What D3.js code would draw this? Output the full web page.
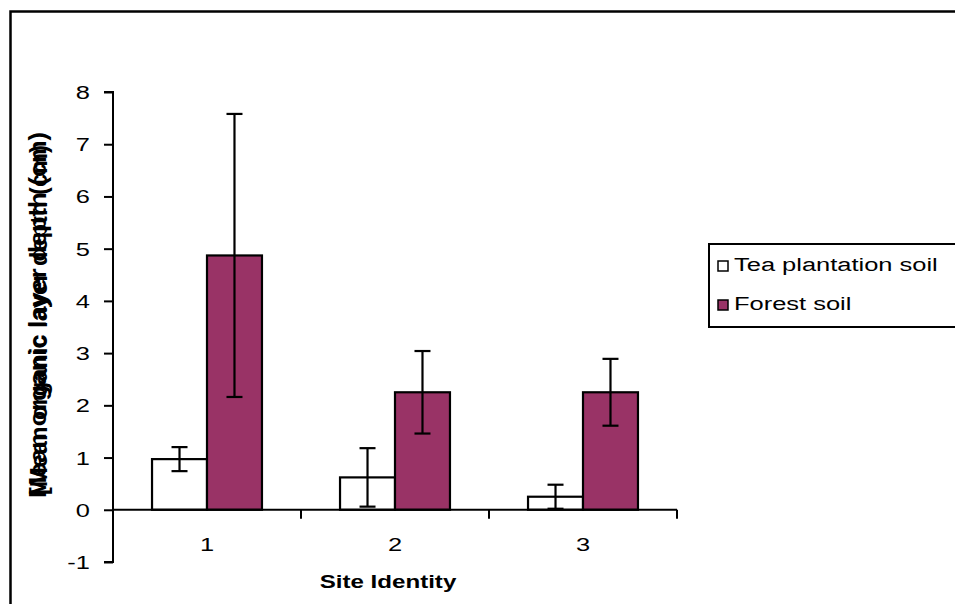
<!DOCTYPE html>
<html><head><meta charset="utf-8">
<script src="https://cdn.jsdelivr.net/npm/d3@7"></script>
<style>body{margin:0;background:#fff}svg{display:block}text{font-family:"Liberation Sans",Arial,sans-serif;fill:#000}</style>
</head><body>
<svg id="c" width="955" height="604"></svg>
<script>
const categories = ["1","2","3"];
const seriesNames = ["Tea plantation soil","Forest soil"];
const teaValues = [0.97, 0.62, 0.25];
const teaErrors = [0.23, 0.56, 0.23];
const forestValues = [4.87, 2.25, 2.25];
const forestErrors = [2.71, 0.79, 0.64];
const yTicks = [-1,0,1,2,3,4,5,6,7,8];
const colors = ["#ffffff","#993366"];
const SX = 1.34; // horizontal stretch of the glyphs in the original

const svg = d3.select("#c");
function stext(g, x, y, str, size, anchor, bold){
  return g.append("text").attr("transform",`translate(${x},${y}) scale(${SX},1)`)
    .attr("text-anchor",anchor).attr("font-size",size).attr("font-weight",bold?"bold":"normal").text(str);
}

// outer frame
svg.append("rect").attr("x",10.5).attr("y",11.5).attr("width",1000).attr("height",1000)
  .attr("fill","none").attr("stroke","#000").attr("stroke-width",2.5);

const x0 = d3.scaleBand().domain(categories).range([113,677]).paddingInner(0).paddingOuter(0);
const x1 = d3.scaleBand().domain(seriesNames).range([0,x0.bandwidth()]).paddingOuter(0.71).paddingInner(0);
const y = d3.scaleLinear().domain([-1,8]).range([562,92]);

const series = [
  {name:seriesNames[0], values:teaValues, errs:teaErrors, color:colors[0]},
  {name:seriesNames[1], values:forestValues, errs:forestErrors, color:colors[1]}
];

// bars
series.forEach(s=>{
  svg.append("g").selectAll("rect").data(categories).join("rect")
    .attr("x",c=>x0(c)+x1(s.name))
    .attr("y",(c,i)=>y(s.values[i]))
    .attr("width",x1.bandwidth())
    .attr("height",(c,i)=>y(0)-y(s.values[i]))
    .attr("fill",s.color).attr("stroke","#000").attr("stroke-width",2.2);
});

// x axis line with category ticks
const xg = svg.append("g");
xg.append("line").attr("x1",113).attr("x2",677).attr("y1",y(0)).attr("y2",y(0)).attr("stroke","#000").attr("stroke-width",2);
const bounds = categories.map(c=>x0(c)).concat([x0(categories[categories.length-1])+x0.bandwidth()]);
xg.selectAll("line.t").data(bounds).join("line").attr("class","t")
  .attr("x1",d=>d).attr("x2",d=>d).attr("y1",y(0)).attr("y2",y(0)+9).attr("stroke","#000").attr("stroke-width",2);
categories.forEach(c=>stext(xg, x0(c)+x0.bandwidth()/2, 551, c, 19, "middle", false));

// error bars
series.forEach(s=>{
  const g = svg.append("g").attr("stroke","#000").attr("stroke-width",2.2);
  categories.forEach((c,i)=>{
    const cx = x0(c)+x1(s.name)+x1.bandwidth()/2;
    const hi = y(s.values[i]+s.errs[i]), lo = y(s.values[i]-s.errs[i]);
    g.append("line").attr("x1",cx).attr("x2",cx).attr("y1",hi).attr("y2",lo);
    g.append("line").attr("x1",cx-8).attr("x2",cx+8).attr("y1",hi).attr("y2",hi);
    g.append("line").attr("x1",cx-8).attr("x2",cx+8).attr("y1",lo).attr("y2",lo);
  });
});

// y axis
const yAxis = d3.axisLeft(y).tickValues(yTicks).tickSize(9).tickFormat(()=>"");
const yg = svg.append("g").attr("transform","translate(113,0)").call(yAxis);
yg.select(".domain").attr("stroke-width",2).attr("d",`M-9,${y(8)}H0V${y(-1)}H-9`);
yg.selectAll(".tick line").attr("stroke-width",2);
yTicks.forEach(t=>stext(svg, 90, y(t)+7, String(t), 19, "end", false));

// axis titles
stext(svg, 388, 588, "Site Identity", 18, "middle", true);
svg.append("text").attr("transform",`translate(46,315) scale(${SX},1) rotate(-90)`).attr("text-anchor","middle")
  .attr("font-size",18).attr("font-weight","bold").attr("textLength",366).attr("lengthAdjust","spacingAndGlyphs")
  .text("Mean organic layer depth (cm)");
svg.append("text").attr("transform",`translate(47,320) scale(${SX},1) rotate(-90)`).attr("text-anchor","middle")
  .attr("font-size",18).attr("font-weight","bold").attr("textLength",350).attr("lengthAdjust","spacingAndGlyphs")
  .text("[Mean organic layer depth (cm)");

// legend
const lg = svg.append("g");
lg.append("rect").attr("x",709).attr("y",244).attr("width",260).attr("height",83)
  .attr("fill","#fff").attr("stroke","#000").attr("stroke-width",2);
seriesNames.forEach((n,i)=>{
  const yy = 261 + i*39;
  lg.append("rect").attr("x",718).attr("y",yy).attr("width",10).attr("height",10)
    .attr("fill",colors[i]).attr("stroke","#000").attr("stroke-width",1.5);
  stext(lg, 734, yy+10, n, 19, "start", false);
});
</script>
</body></html>
